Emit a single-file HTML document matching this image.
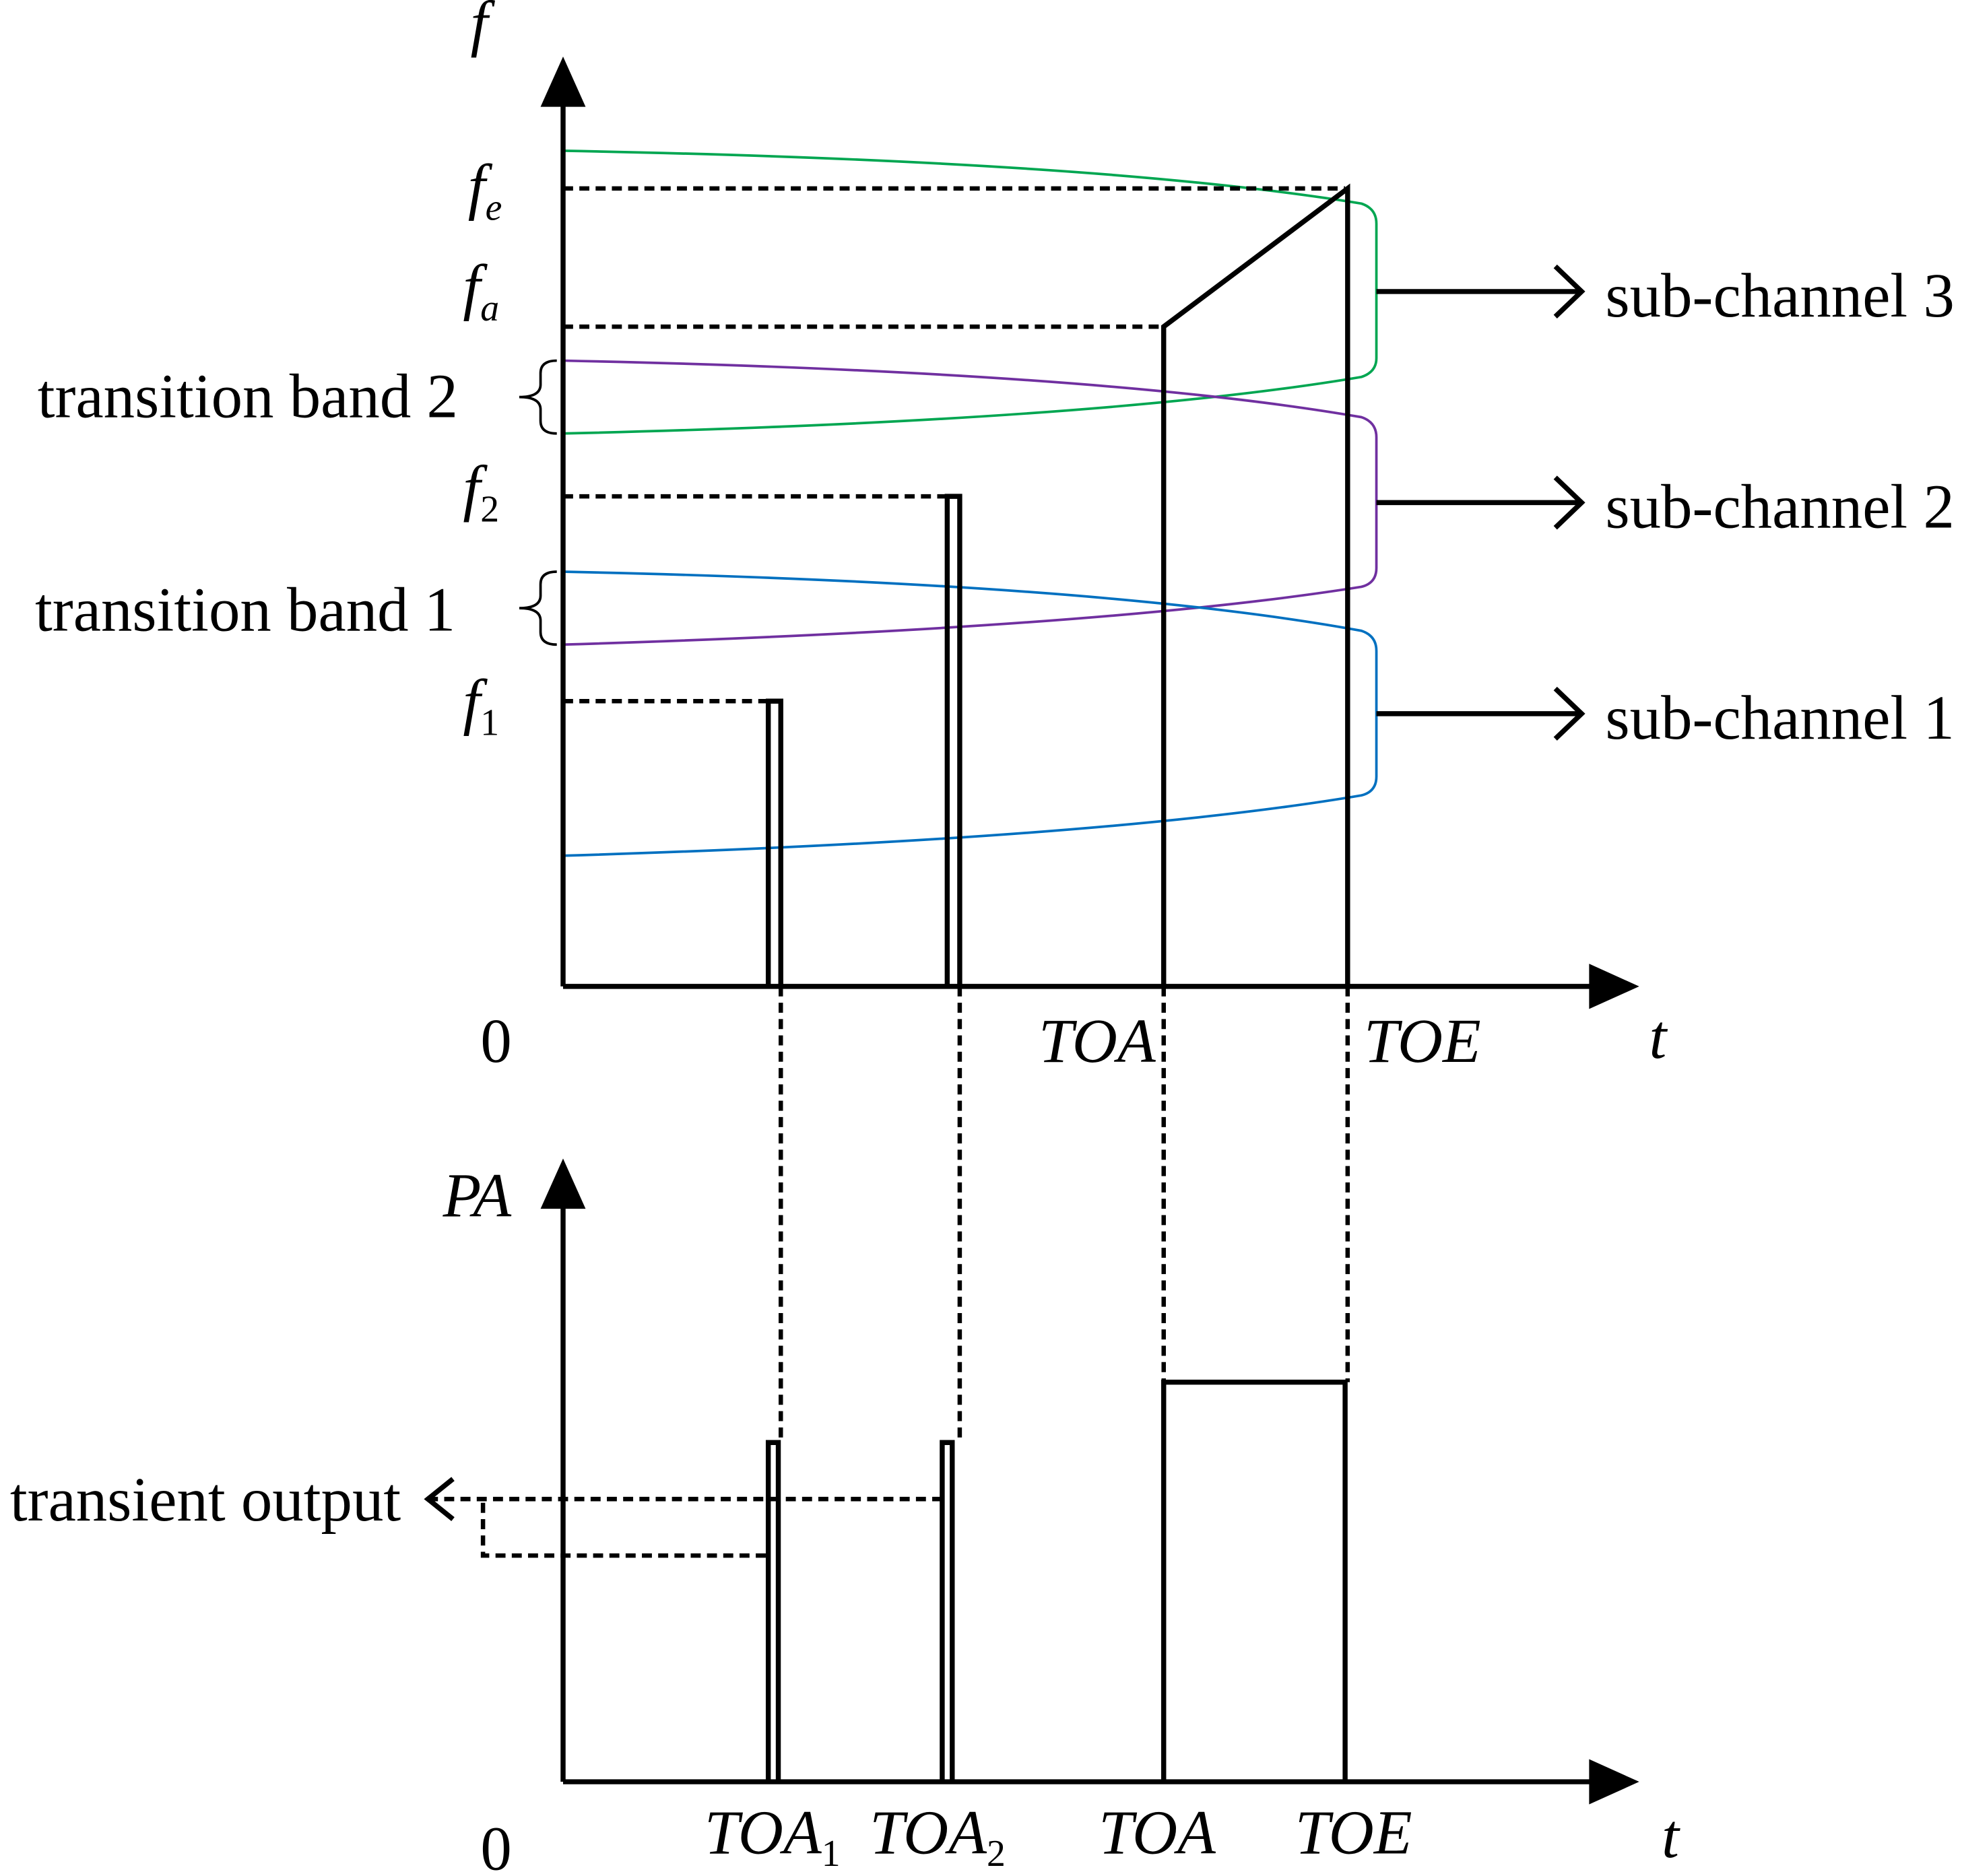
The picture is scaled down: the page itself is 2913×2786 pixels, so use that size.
<!DOCTYPE html>
<html><head><meta charset="utf-8"><style>
html,body{margin:0;padding:0;background:#fff;}
svg{display:block;}
text{font-family:"Liberation Serif",serif;font-size:50px;fill:#000;}
.i{font-style:italic;}
</style></head><body>
<svg width="2913" height="2786" viewBox="0 0 1568 1493" preserveAspectRatio="none" xmlns="http://www.w3.org/2000/svg">
<rect width="1568" height="1493" fill="#fff"/>
<g fill="none" stroke-width="2">
<path stroke="#00a651" d="M450,120 Q880,128 1088,162 Q1100,166 1100,178 L1100,285 Q1100,296 1088,300 Q880,335 450,345"/>
<path stroke="#7030a0" d="M450,287 Q880,296 1088,332 Q1100,336 1100,348 L1100,452 Q1100,464 1088,467 Q880,500 450,513"/>
<path stroke="#0070c0" d="M450,455 Q880,464 1088,502 Q1100,506 1100,518 L1100,618 Q1100,630 1088,633 Q880,668 450,681"/>
</g>
<g fill="none" stroke="#000" stroke-width="4">
<line x1="450" y1="785" x2="450" y2="80"/>
<line x1="450" y1="785" x2="1275" y2="785"/>
<g stroke-dasharray="8,5" stroke-width="3.5">
<line x1="450" y1="150" x2="1075" y2="150"/>
<line x1="450" y1="260" x2="930" y2="260"/>
<line x1="450" y1="395" x2="765" y2="395"/>
<line x1="450" y1="558" x2="620" y2="558"/>
<line x1="624" y1="785" x2="624" y2="1148"/>
<line x1="767" y1="785" x2="767" y2="1148"/>
<line x1="930" y1="785" x2="930" y2="1100"/>
<line x1="1077" y1="785" x2="1077" y2="1100"/>
<polyline points="753,1193 345,1193"/>
<polyline points="612,1238 386,1238 386,1193"/>
</g>
<polyline points="614,785 614,558 624,558 624,785"/>
<polyline points="757,785 757,395 767,395 767,785"/>
<polyline points="930,785 930,260 1077,150 1077,785"/>
<line x1="1100" y1="232" x2="1262" y2="232"/><polyline points="1243,212 1264,232 1243,252"/>
<line x1="1100" y1="400" x2="1262" y2="400"/><polyline points="1243,380 1264,400 1243,420"/>
<line x1="1100" y1="568" x2="1262" y2="568"/><polyline points="1243,548 1264,568 1243,588"/>
<line x1="450" y1="1418" x2="450" y2="955"/>
<line x1="450" y1="1418" x2="1275" y2="1418"/>
<polyline points="614,1418 614,1148 622,1148 622,1418"/>
<polyline points="753,1418 753,1148 761,1148 761,1418"/>
<polyline points="930,1418 930,1100 1075,1100 1075,1418"/>
<polyline points="362,1177 342,1193 362,1209"/>
</g>
<g fill="none" stroke="#000" stroke-width="2">
<path d="M445,287 Q432,287 432,297 L432,306 Q432,316 415,316 Q432,316 432,326 L432,335 Q432,345 445,345"/>
<path d="M445,455 Q432,455 432,465 L432,474 Q432,484 415,484 Q432,484 432,494 L432,503 Q432,513 445,513"/>
</g>
<polygon points="432,85 468,85 450,45" fill="#000"/>
<polygon points="1270,767 1270,803 1310,785" fill="#000"/>
<polygon points="432,962 468,962 450,922" fill="#000"/>
<polygon points="1270,1400 1270,1436 1310,1418" fill="#000"/>
<text class="i" x="376" y="35">f</text>
<text class="i" x="374" y="165">f<tspan font-size="30" dy="10">e</tspan></text>
<text class="i" x="370" y="245">f<tspan font-size="30" dy="10">a</tspan></text>
<text class="i" x="370" y="405">f<tspan font-size="30" dy="10" font-style="normal">2</tspan></text>
<text class="i" x="370" y="575">f<tspan font-size="30" dy="10" font-style="normal">1</tspan></text>
<text x="30" y="332">transition band 2</text>
<text x="28" y="502">transition band 1</text>
<text x="1283" y="252">sub-channel 3</text>
<text x="1283" y="420">sub-channel 2</text>
<text x="1283" y="588">sub-channel 1</text>
<text x="384" y="845">0</text>
<text class="i" x="830" y="845">TOA</text>
<text class="i" x="1090" y="845">TOE</text>
<text class="i" x="1318" y="842">t</text>
<text class="i" x="354" y="968">PA</text>
<text x="8" y="1210">transient output</text>
<text x="384" y="1488">0</text>
<text class="i" x="563" y="1475">TOA<tspan font-size="30" dy="10" font-style="normal">1</tspan></text>
<text class="i" x="695" y="1475">TOA<tspan font-size="30" dy="10" font-style="normal">2</tspan></text>
<text class="i" x="878" y="1475">TOA</text>
<text class="i" x="1035" y="1475">TOE</text>
<text class="i" x="1328" y="1478">t</text>
</svg>
</body></html>
